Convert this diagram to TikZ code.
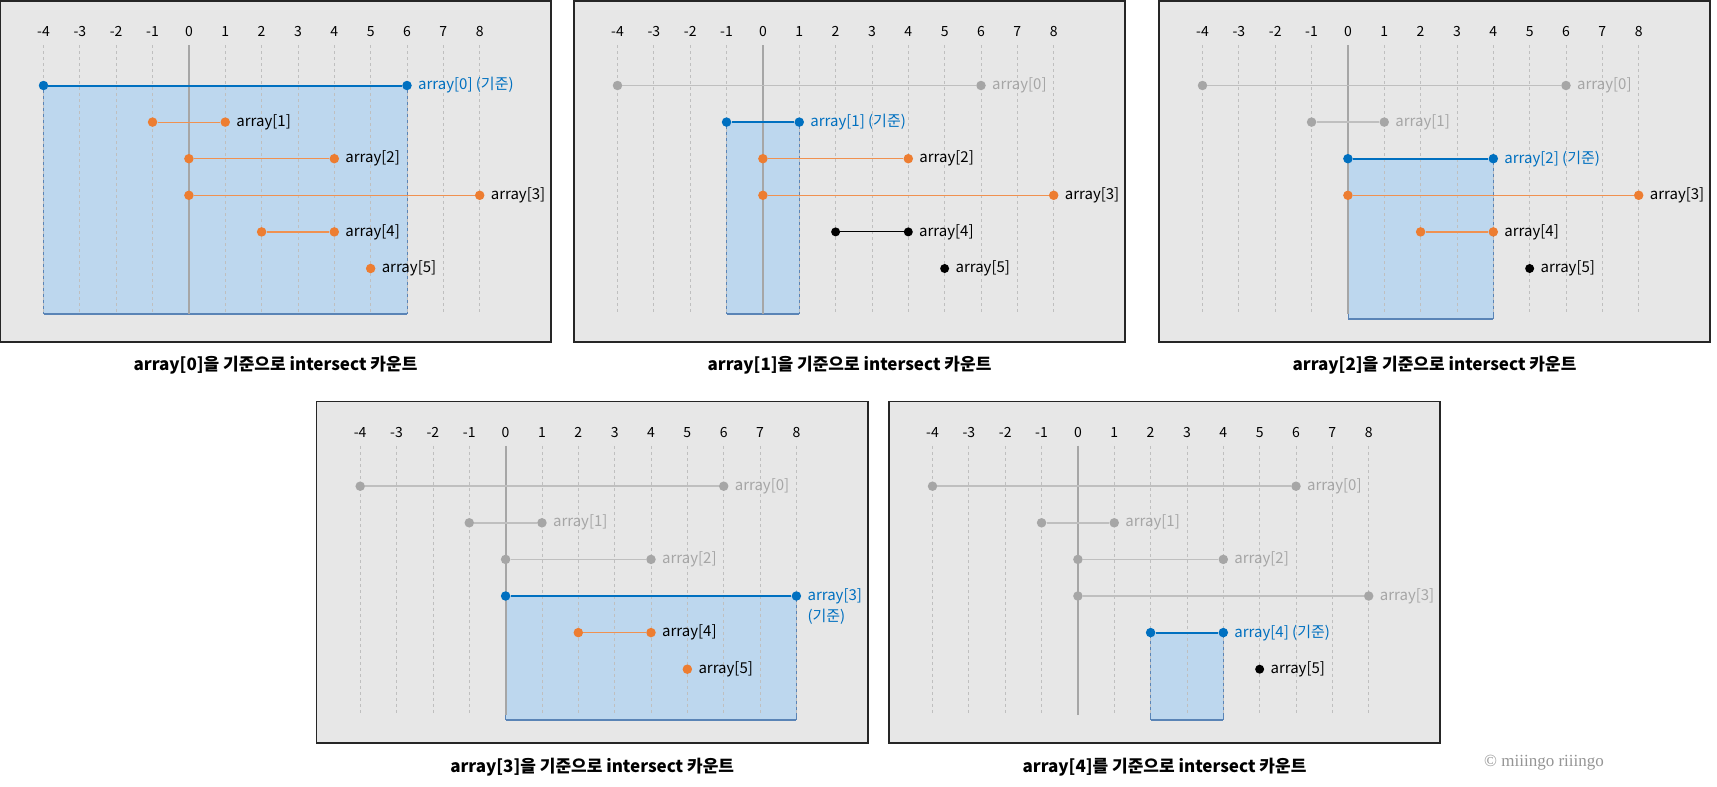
\documentclass[tikz,border=0pt]{standalone}
\usepackage{fontspec}
\setmainfont{Noto Sans CJK KR}
\newfontfamily\signfont{Liberation Serif}
\usepackage{xcolor}
\definecolor{ivblue}{RGB}{0,112,192}
\definecolor{ivorange}{RGB}{237,125,49}
\definecolor{ivgray}{RGB}{166,166,166}
\definecolor{ivgrid}{RGB}{191,191,191}
\definecolor{ivpanel}{RGB}{231,231,231}
\definecolor{ivframe}{RGB}{38,38,38}
\definecolor{ivfill}{RGB}{189,215,238}
\definecolor{ivedge}{RGB}{90,132,182}
\usetikzlibrary{positioning}

\tikzset{
  endpt/.style={circle, inner sep=0pt, minimum size=9.5pt},
  bluedot/.style={endpt, fill=ivblue},
  hitdot/.style={endpt, fill=ivorange},
  pastdot/.style={endpt, fill=ivgray},
  missdot/.style={endpt, fill=black, minimum size=9pt},
  baseseg/.style={ivblue, line width=2pt},
  hitseg/.style={ivorange!85, line width=1.2pt},
  pastseg/.style={ivgrid, line width=1.6pt},
  missseg/.style={black, line width=1pt},
  lbl/.style={font=\fontsize{15}{21}\selectfont, inner sep=0pt},
  baselbl/.style={lbl, text=ivblue},
  hitlbl/.style={lbl, text=black},
  pastlbl/.style={lbl, text=ivgray},
  ticklbl/.style={font=\fontsize{14}{16}\selectfont, inner sep=0pt},
  capt/.style={font=\fontsize{17}{20}\selectfont\bfseries, inner sep=0pt},
}

\begin{document}
\begin{tikzpicture}[x=1pt, y=-1pt]
  \useasboundingbox[fill=white] (0,0) rectangle (1717,787);

  % panel bases: background, base rectangle, grid, axis, ticks, frame
  \foreach \i/\px/\py/\ra/\rb/\rt/\rbot in {1/188.9/85.5/-4/6/0/6.25, 2/762.9/85.5/-1/1/1/6.25, 3/1347.9/85.5/0/4/2/6.38, 4/505.6/486.2/0/8/3/6.38, 5/1077.9/486.2/2/4/4/6.38}{
    \begin{scope}[shift={(\px,\py)}, x=36.35pt, y=-36.6pt]
      \fill[ivpanel] (-5.197,-2.31) rectangle (9.962,7.01);
      \fill[ivfill] (\ra,\rt) rectangle (\rb,\rbot);
      \draw[ivedge, line width=0.8pt] (\ra,\rt) -- (\ra,\rbot) (\rb,\rt) -- (\rb,\rbot);
      \draw[ivedge, line width=2pt] (\ra,\rbot) -- (\rb,\rbot);
      \foreach \v in {-4,...,8}{
        \draw[ivgrid, line width=0.8pt, dash pattern=on 3pt off 3pt] (\v,-1.1) -- (\v,6.25);
        \node[ticklbl] (p\i t\v) at (\v,-1.47) {\v};
      }
      \draw[ivgray, line width=2pt] (0,-1.1) -- (0,6.25);
      \draw[ivframe, line width=1.6pt] (-5.197,-2.31) rectangle (9.962,7.01);
    \end{scope}
  }

  % panel 1 -- array[0]
  \begin{scope}[shift={(188.9,85.5)}, x=36.35pt, y=-36.6pt]
    \node[bluedot] (A0s) at (-4,0) {};
    \node[bluedot] (A0e) at (6,0) {};
    \draw[baseseg] (A0s) -- (A0e);
    \node[baselbl, right=6pt of A0e] (A0l) {array[0] (기준)};
    \node[hitdot] (A1s) at (-1,1) {};
    \node[hitdot] (A1e) at (1,1) {};
    \draw[hitseg] (A1s) -- (A1e);
    \node[hitlbl, right=6pt of A1e] (A1l) {array[1]};
    \node[hitdot] (A2s) at (0,2) {};
    \node[hitdot] (A2e) at (4,2) {};
    \draw[hitseg] (A2s) -- (A2e);
    \node[hitlbl, right=6pt of A2e] (A2l) {array[2]};
    \node[hitdot] (A3s) at (0,3) {};
    \node[hitdot] (A3e) at (8,3) {};
    \draw[hitseg] (A3s) -- (A3e);
    \node[hitlbl, right=6pt of A3e] (A3l) {array[3]};
    \node[hitdot] (A4s) at (2,4) {};
    \node[hitdot] (A4e) at (4,4) {};
    \draw[hitseg] (A4s) -- (A4e);
    \node[hitlbl, right=6pt of A4e] (A4l) {array[4]};
    \node[hitdot] (A5) at (5,5) {};
    \node[hitlbl, right=6pt of A5] (A5l) {array[5]};
  \end{scope}

  % panel 2 -- array[1]
  \begin{scope}[shift={(762.9,85.5)}, x=36.35pt, y=-36.6pt]
    \node[pastdot] (B0s) at (-4,0) {};
    \node[pastdot] (B0e) at (6,0) {};
    \draw[pastseg] (B0s) -- (B0e);
    \node[pastlbl, right=6pt of B0e] (B0l) {array[0]};
    \node[bluedot] (B1s) at (-1,1) {};
    \node[bluedot] (B1e) at (1,1) {};
    \draw[baseseg] (B1s) -- (B1e);
    \node[baselbl, right=6pt of B1e] (B1l) {array[1] (기준)};
    \node[hitdot] (B2s) at (0,2) {};
    \node[hitdot] (B2e) at (4,2) {};
    \draw[hitseg] (B2s) -- (B2e);
    \node[hitlbl, right=6pt of B2e] (B2l) {array[2]};
    \node[hitdot] (B3s) at (0,3) {};
    \node[hitdot] (B3e) at (8,3) {};
    \draw[hitseg] (B3s) -- (B3e);
    \node[hitlbl, right=6pt of B3e] (B3l) {array[3]};
    \node[missdot] (B4s) at (2,4) {};
    \node[missdot] (B4e) at (4,4) {};
    \draw[missseg] (B4s) -- (B4e);
    \node[hitlbl, right=6pt of B4e] (B4l) {array[4]};
    \node[missdot] (B5) at (5,5) {};
    \node[hitlbl, right=6pt of B5] (B5l) {array[5]};
  \end{scope}

  % panel 3 -- array[2]
  \begin{scope}[shift={(1347.9,85.5)}, x=36.35pt, y=-36.6pt]
    \node[pastdot] (C0s) at (-4,0) {};
    \node[pastdot] (C0e) at (6,0) {};
    \draw[pastseg] (C0s) -- (C0e);
    \node[pastlbl, right=6pt of C0e] (C0l) {array[0]};
    \node[pastdot] (C1s) at (-1,1) {};
    \node[pastdot] (C1e) at (1,1) {};
    \draw[pastseg] (C1s) -- (C1e);
    \node[pastlbl, right=6pt of C1e] (C1l) {array[1]};
    \node[bluedot] (C2s) at (0,2) {};
    \node[bluedot] (C2e) at (4,2) {};
    \draw[baseseg] (C2s) -- (C2e);
    \node[baselbl, right=6pt of C2e] (C2l) {array[2] (기준)};
    \node[hitdot] (C3s) at (0,3) {};
    \node[hitdot] (C3e) at (8,3) {};
    \draw[hitseg] (C3s) -- (C3e);
    \node[hitlbl, right=6pt of C3e] (C3l) {array[3]};
    \node[hitdot] (C4s) at (2,4) {};
    \node[hitdot] (C4e) at (4,4) {};
    \draw[hitseg] (C4s) -- (C4e);
    \node[hitlbl, right=6pt of C4e] (C4l) {array[4]};
    \node[missdot] (C5) at (5,5) {};
    \node[hitlbl, right=6pt of C5] (C5l) {array[5]};
  \end{scope}

  % panel 4 -- array[3]
  \begin{scope}[shift={(505.6,486.2)}, x=36.35pt, y=-36.6pt]
    \node[pastdot] (D0s) at (-4,0) {};
    \node[pastdot] (D0e) at (6,0) {};
    \draw[pastseg] (D0s) -- (D0e);
    \node[pastlbl, right=6pt of D0e] (D0l) {array[0]};
    \node[pastdot] (D1s) at (-1,1) {};
    \node[pastdot] (D1e) at (1,1) {};
    \draw[pastseg] (D1s) -- (D1e);
    \node[pastlbl, right=6pt of D1e] (D1l) {array[1]};
    \node[pastdot] (D2s) at (0,2) {};
    \node[pastdot] (D2e) at (4,2) {};
    \draw[pastseg] (D2s) -- (D2e);
    \node[pastlbl, right=6pt of D2e] (D2l) {array[2]};
    \node[bluedot] (D3s) at (0,3) {};
    \node[bluedot] (D3e) at (8,3) {};
    \draw[baseseg] (D3s) -- (D3e);
    \node[baselbl, align=left, right=6pt of D3e, yshift=-10.5pt] (D3l) {array[3]\\(기준)};
    \node[hitdot] (D4s) at (2,4) {};
    \node[hitdot] (D4e) at (4,4) {};
    \draw[hitseg] (D4s) -- (D4e);
    \node[hitlbl, right=6pt of D4e] (D4l) {array[4]};
    \node[hitdot] (D5) at (5,5) {};
    \node[hitlbl, right=6pt of D5] (D5l) {array[5]};
  \end{scope}

  % panel 5 -- array[4]
  \begin{scope}[shift={(1077.9,486.2)}, x=36.35pt, y=-36.6pt]
    \node[pastdot] (E0s) at (-4,0) {};
    \node[pastdot] (E0e) at (6,0) {};
    \draw[pastseg] (E0s) -- (E0e);
    \node[pastlbl, right=6pt of E0e] (E0l) {array[0]};
    \node[pastdot] (E1s) at (-1,1) {};
    \node[pastdot] (E1e) at (1,1) {};
    \draw[pastseg] (E1s) -- (E1e);
    \node[pastlbl, right=6pt of E1e] (E1l) {array[1]};
    \node[pastdot] (E2s) at (0,2) {};
    \node[pastdot] (E2e) at (4,2) {};
    \draw[pastseg] (E2s) -- (E2e);
    \node[pastlbl, right=6pt of E2e] (E2l) {array[2]};
    \node[pastdot] (E3s) at (0,3) {};
    \node[pastdot] (E3e) at (8,3) {};
    \draw[pastseg] (E3s) -- (E3e);
    \node[pastlbl, right=6pt of E3e] (E3l) {array[3]};
    \node[bluedot] (E4s) at (2,4) {};
    \node[bluedot] (E4e) at (4,4) {};
    \draw[baseseg] (E4s) -- (E4e);
    \node[baselbl, right=6pt of E4e] (E4l) {array[4] (기준)};
    \node[missdot] (E5) at (5,5) {};
    \node[hitlbl, right=6pt of E5] (E5l) {array[5]};
  \end{scope}

  % captions
  \node[capt] (capA) at (275.5,365) {array[0]을 기준으로 intersect 카운트};
  \node[capt] (capB) at (849.5,365) {array[1]을 기준으로 intersect 카운트};
  \node[capt] (capC) at (1434.5,365) {array[2]을 기준으로 intersect 카운트};
  \node[capt] (capD) at (592.2,767) {array[3]을 기준으로 intersect 카운트};
  \node[capt] (capE) at (1164.5,767) {array[4]를 기준으로 intersect 카운트};
  \node[font=\signfont\fontsize{17}{20}\selectfont, text=ivgray!90!black, inner sep=0pt] (sign) at (1544,763) {© miiingo riiingo};
\end{tikzpicture}
\end{document}
